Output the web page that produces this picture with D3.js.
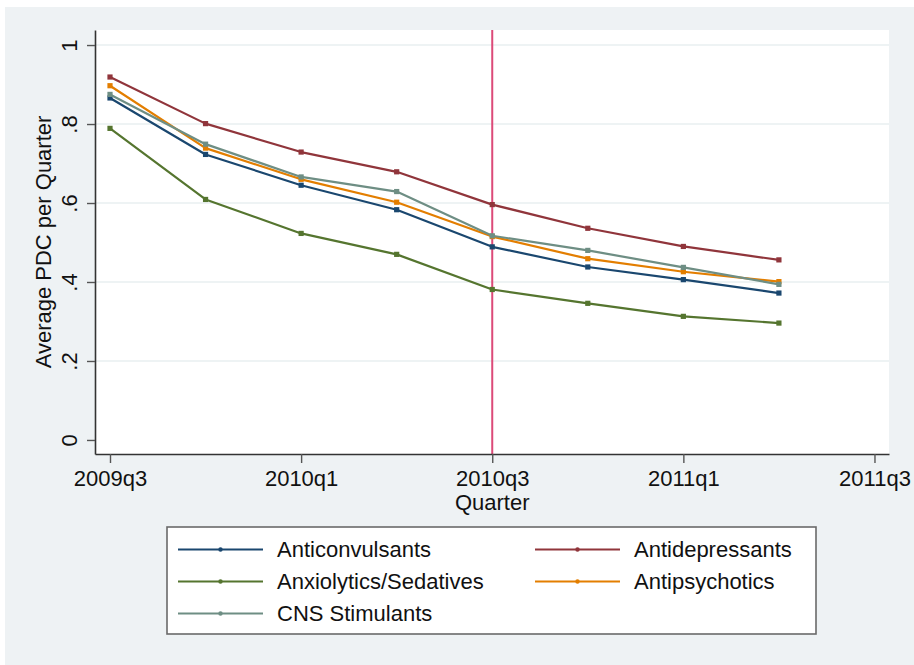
<!DOCTYPE html>
<html>
<head>
<meta charset="utf-8">
<script src="https://cdn.jsdelivr.net/npm/d3@7"></script>
<style>
  html, body { margin: 0; padding: 0; background: #ffffff; }
  svg { display: block; }
  text { font-family: "Liberation Sans", Arial, Helvetica, sans-serif; fill: #111; }
</style>
</head>
<body>
<svg id="chart" width="914" height="665"></svg>
<script>
// Quarters observed (index 0 = 2009q3)
const quarters = ["2009q3", "2009q4", "2010q1", "2010q2", "2010q3", "2010q4", "2011q1", "2011q2"];

// Average PDC per quarter, by drug class
const anticonvulsants = [0.866, 0.723, 0.645, 0.583, 0.489, 0.438, 0.406, 0.372];
const antidepressants = [0.919, 0.801, 0.729, 0.679, 0.596, 0.536, 0.490, 0.456];
const anxiolytics     = [0.789, 0.609, 0.523, 0.470, 0.381, 0.346, 0.313, 0.296];
const antipsychotics  = [0.897, 0.739, 0.660, 0.602, 0.515, 0.459, 0.426, 0.401];
const cnsStimulants   = [0.875, 0.749, 0.666, 0.629, 0.517, 0.480, 0.437, 0.394];

const seriesNames = ["Anticonvulsants", "Antidepressants", "Anxiolytics/Sedatives", "Antipsychotics", "CNS Stimulants"];

// Axis ticks
const xTickIndex  = [0, 2, 4, 6, 8];
const xTickLabels = ["2009q3", "2010q1", "2010q3", "2011q1", "2011q3"];
const yTickValues = [0, 0.2, 0.4, 0.6, 0.8, 1];
const yTickLabels = ["0", ".2", ".4", ".6", ".8", "1"];

// Reference quarter marked with a vertical line
const markerQuarter = 4;

const colors = ["#1a476f", "#90353b", "#55752f", "#e37e00", "#6e8e84"];
const seriesValues = [anticonvulsants, antidepressants, anxiolytics, antipsychotics, cnsStimulants];

const FONT = "22px";

const svg = d3.select("#chart");

// Graph region background
svg.append("rect").attr("x", 5).attr("y", 7).attr("width", 909).attr("height", 658).attr("fill", "#eef2f4");

const plot = { left: 95, right: 889, top: 30, bottom: 454 };

// Plot region
svg.append("rect")
  .attr("x", plot.left).attr("y", plot.top)
  .attr("width", plot.right - plot.left).attr("height", plot.bottom - plot.top)
  .attr("fill", "#ffffff");

const x = d3.scaleLinear().domain([-0.157, 8.152]).range([plot.left, plot.right]);
const y = d3.scaleLinear().domain([-14 / 394, 1 + 15 / 394]).range([plot.bottom, plot.top]);

// Horizontal grid lines
svg.append("g").selectAll("line")
  .data(yTickValues.filter(v => v > 0))
  .join("line")
  .attr("x1", plot.left).attr("x2", plot.right)
  .attr("y1", d => y(d)).attr("y2", d => y(d))
  .attr("stroke", "#e9eff1").attr("stroke-width", 1.5);

// Vertical reference line
svg.append("line")
  .attr("x1", x(markerQuarter)).attr("x2", x(markerQuarter))
  .attr("y1", plot.top).attr("y2", plot.bottom)
  .attr("stroke", "#dc4a78").attr("stroke-width", 2);

// Series lines and markers
const line = d3.line().x((d, i) => x(i)).y(d => y(d));
seriesValues.forEach((vals, k) => {
  const g = svg.append("g");
  g.append("path").datum(vals)
    .attr("d", line)
    .attr("fill", "none")
    .attr("stroke", colors[k])
    .attr("stroke-width", 2.2)
    .attr("stroke-linejoin", "round");
  g.selectAll("rect").data(vals).join("rect")
    .attr("x", (d, i) => x(i) - 2.6)
    .attr("y", d => y(d) - 2.6)
    .attr("width", 5.2).attr("height", 5.2)
    .attr("fill", colors[k]);
});

// Axes
const xAxis = d3.axisBottom(x)
  .tickValues(xTickIndex)
  .tickFormat((d, i) => xTickLabels[i])
  .tickSize(9).tickPadding(7).tickSizeOuter(0);
const gx = svg.append("g").attr("transform", `translate(0,${plot.bottom})`).call(xAxis);
gx.select(".domain").attr("stroke", "#333").attr("stroke-width", 1.6);
gx.selectAll(".tick line").attr("stroke", "#555").attr("stroke-width", 1.4);
gx.selectAll(".tick text")
  .attr("font-size", FONT).attr("fill", "#111")
  .attr("font-family", "Liberation Sans, Arial, sans-serif")
  .attr("dy", null).attr("y", 32);

const yAxis = d3.axisLeft(y)
  .tickValues(yTickValues)
  .tickFormat((d, i) => yTickLabels[i])
  .tickSize(8).tickSizeOuter(0);
const gy = svg.append("g").attr("transform", `translate(${plot.left},0)`).call(yAxis);
gy.select(".domain").attr("stroke", "#333").attr("stroke-width", 1.6);
gy.selectAll(".tick line").attr("stroke", "#555").attr("stroke-width", 1.4);
gy.selectAll(".tick text")
  .attr("font-size", FONT).attr("fill", "#111")
  .attr("font-family", "Liberation Sans, Arial, sans-serif")
  .attr("x", null).attr("dy", null)
  .attr("text-anchor", "middle")
  .attr("transform", "translate(-18,0) rotate(-90)");

// Axis titles
svg.append("text")
  .attr("x", x(markerQuarter)).attr("y", 510)
  .attr("text-anchor", "middle").attr("font-size", FONT)
  .text("Quarter");
svg.append("text")
  .attr("transform", "translate(51,242) rotate(-90)")
  .attr("text-anchor", "middle").attr("font-size", FONT)
  .text("Average PDC per Quarter");

// Legend
const legend = svg.append("g");
legend.append("rect")
  .attr("x", 167).attr("y", 527).attr("width", 649).attr("height", 107)
  .attr("fill", "#ffffff").attr("stroke", "#6a6a6a").attr("stroke-width", 1.6);

const colX = [178, 535];
const rowY = [549.5, 581.5, 613.5];
seriesNames.forEach((name, k) => {
  const cx = colX[k % 2], cy = rowY[Math.floor(k / 2)];
  legend.append("line")
    .attr("x1", cx).attr("x2", cx + 85)
    .attr("y1", cy).attr("y2", cy)
    .attr("stroke", colors[k]).attr("stroke-width", 2);
  legend.append("circle")
    .attr("cx", cx + 42.5).attr("cy", cy).attr("r", 2.2)
    .attr("fill", colors[k]);
  legend.append("text")
    .attr("x", cx + 99).attr("y", cy + 7.5)
    .attr("font-size", FONT)
    .text(name);
});
</script>
</body>
</html>
